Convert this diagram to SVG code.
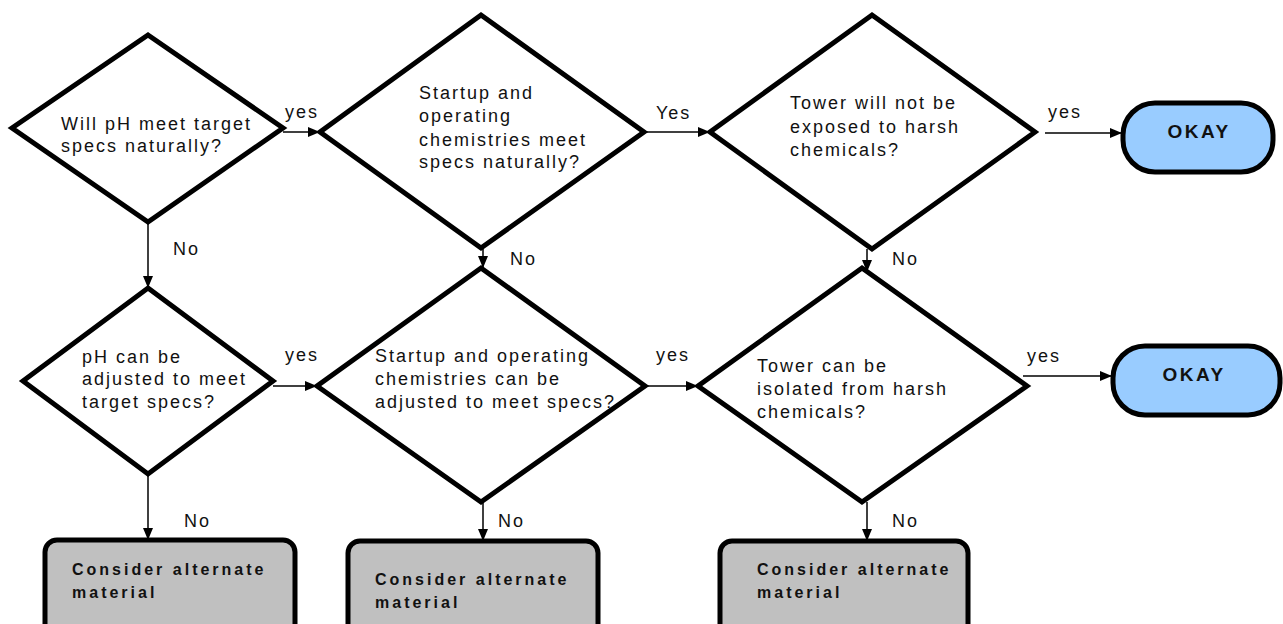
<svg xmlns="http://www.w3.org/2000/svg" width="1283" height="624" viewBox="0 0 1283 624">
<style>
.dia{fill:#fff;stroke:#000;stroke-width:5;stroke-linejoin:miter}
.t{font-family:"Liberation Sans",Arial,sans-serif;font-size:18px;letter-spacing:2px;fill:#111}
.ok{fill:#99ccff;stroke:#000;stroke-width:5}
.ok-t{font-family:"Liberation Sans",Arial,sans-serif;font-size:19px;font-weight:bold;letter-spacing:2.5px;fill:#111;text-anchor:middle}
.alt{fill:#c0c0c0;stroke:#000;stroke-width:5}
.alt-t{font-family:"Liberation Sans",Arial,sans-serif;font-size:16px;font-weight:bold;letter-spacing:3px;fill:#111}
.c{stroke:#000;stroke-width:1.5;fill:none;marker-end:url(#ah)}
</style>
<defs>
<marker id="ah" viewBox="0 0 12 10" refX="12" refY="5" markerWidth="12" markerHeight="10" markerUnits="userSpaceOnUse" orient="auto">
<path d="M0,0 L12,5 L0,10 Z" fill="#000"/>
</marker>
</defs>
<rect width="1283" height="624" fill="#fff"/>
<g id="connectors">
<line class="c" x1="283" y1="132" x2="320" y2="132"/>
<line class="c" x1="644" y1="132" x2="710" y2="132"/>
<line class="c" x1="1045" y1="133" x2="1122" y2="133"/>
<line class="c" x1="148" y1="222" x2="148" y2="288"/>
<line class="c" x1="483" y1="240" x2="483" y2="268"/>
<line class="c" x1="867" y1="249" x2="867" y2="272"/>
<line class="c" x1="273" y1="386" x2="317" y2="386"/>
<line class="c" x1="645" y1="386" x2="698" y2="386"/>
<line class="c" x1="1023" y1="376" x2="1112" y2="376"/>
<line class="c" x1="148" y1="474" x2="148" y2="540"/>
<line class="c" x1="483" y1="502" x2="483" y2="541"/>
<line class="c" x1="867" y1="502" x2="867" y2="541"/>
<text class="t" x="285" y="118">yes</text>
<text class="t" x="656" y="119">Yes</text>
<text class="t" x="1048" y="118">yes</text>
<text class="t" x="173" y="255">No</text>
<text class="t" x="510" y="265">No</text>
<text class="t" x="892" y="265">No</text>
<text class="t" x="285" y="361">yes</text>
<text class="t" x="656" y="361">yes</text>
<text class="t" x="1027" y="362">yes</text>
<text class="t" x="184" y="527">No</text>
<text class="t" x="498" y="527">No</text>
<text class="t" x="892" y="527">No</text>
</g>
<g id="d1">
<polygon class="dia" points="148,35 283,128 148,222 12,128"/>
<text class="t" x="61" y="130">Will pH meet target</text>
<text class="t" x="61" y="152">specs naturally?</text>
</g>
<g id="d2">
<polygon class="dia" points="481,15 644,132 481,248 320,132"/>
<text class="t" x="419" y="99">Startup and</text>
<text class="t" x="419" y="122">operating</text>
<text class="t" x="419" y="146">chemistries meet</text>
<text class="t" x="419" y="168">specs naturally?</text>
</g>
<g id="d3">
<polygon class="dia" points="872,15 1035,132 872,249 710,132"/>
<text class="t" x="790" y="109">Tower will not be</text>
<text class="t" x="790" y="133">exposed to harsh</text>
<text class="t" x="790" y="156">chemicals?</text>
</g>
<g id="okay1">
<rect class="ok" x="1123" y="103" width="150" height="69" rx="32" ry="32"/>
<text class="ok-t" x="1199" y="138">OKAY</text>
</g>
<g id="d4">
<polygon class="dia" points="148,288 273,381 148,474 23,381"/>
<text class="t" x="82" y="363">pH can be</text>
<text class="t" x="82" y="385">adjusted to meet</text>
<text class="t" x="82" y="408">target specs?</text>
</g>
<g id="d5">
<polygon class="dia" points="481,268 645,386 481,502 317,386"/>
<text class="t" x="375" y="362">Startup and operating</text>
<text class="t" x="375" y="385">chemistries can be</text>
<text class="t" x="375" y="408">adjusted to meet specs?</text>
</g>
<g id="d6">
<polygon class="dia" points="862,268 1027,386 862,502 698,386"/>
<text class="t" x="757" y="372">Tower can  be</text>
<text class="t" x="757" y="395">isolated from harsh</text>
<text class="t" x="757" y="418">chemicals?</text>
</g>
<g id="okay2">
<rect class="ok" x="1113" y="346" width="167" height="69" rx="32" ry="32"/>
<text class="ok-t" x="1194" y="381">OKAY</text>
</g>
<g id="alt1">
<rect class="alt" x="45" y="540" width="250" height="110" rx="12" ry="12"/>
<text class="alt-t" x="72" y="575">Consider alternate</text>
<text class="alt-t" x="72" y="598">material</text>
</g>
<g id="alt2">
<rect class="alt" x="348" y="541" width="250" height="110" rx="12" ry="12"/>
<text class="alt-t" x="375" y="585">Consider alternate</text>
<text class="alt-t" x="375" y="608">material</text>
</g>
<g id="alt3">
<rect class="alt" x="720" y="541" width="248" height="110" rx="12" ry="12"/>
<text class="alt-t" x="757" y="575">Consider alternate</text>
<text class="alt-t" x="757" y="598">material</text>
</g>
</svg>
